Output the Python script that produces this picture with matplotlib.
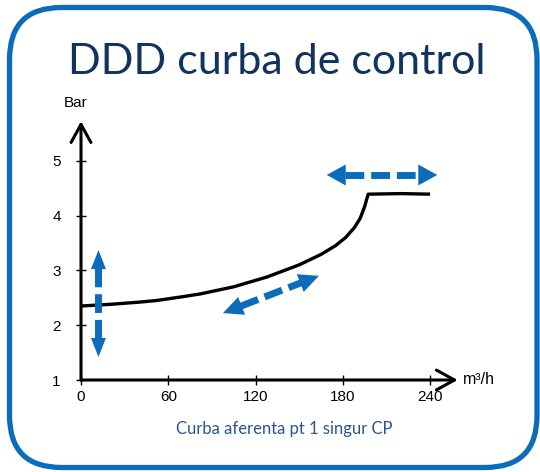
import numpy as np
import matplotlib
matplotlib.use("Agg")
import matplotlib.pyplot as plt
from matplotlib.patches import FancyBboxPatch, FancyArrowPatch

# ── Data ──────────────────────────────────────────────────────────────────────
flow = [0, 20, 40, 52, 70, 82, 105, 128, 150, 165, 175, 182, 188, 192, 195,
        196.5, 197.5, 220, 240]
pressure = [2.35, 2.38, 2.42, 2.45, 2.52, 2.57, 2.70, 2.88, 3.10, 3.29, 3.45,
            3.60, 3.78, 3.95, 4.16, 4.30, 4.39, 4.40, 4.39]
x_ticks = [0, 60, 120, 180, 240]
y_ticks = [1, 2, 3, 4, 5]

# double-headed dashed arrows (start, end) in data units
arrow_vert = [(12, 3.37), (12, 1.42)]
arrow_diag = [(97.6, 2.22), (163.6, 2.90)]
arrow_top = [(169, 4.74), (245, 4.74)]

BLUE = "#0a6cbb"
NAVY = "#12335e"

fig = plt.figure(figsize=(5.4, 4.72), dpi=100)
fig.patch.set_facecolor("white")

# ── Frame + texts on a pixel-space overlay ────────────────────────────────────
bg = fig.add_axes([0, 0, 1, 1])
bg.set_xlim(0, 540)
bg.set_ylim(472, 0)
bg.axis("off")
bg.add_patch(FancyBboxPatch((9.5, 7.5), 527.5, 460,
                            boxstyle="round,pad=0,rounding_size=52",
                            facecolor="none", edgecolor=BLUE, linewidth=3.8))
bg.text(277, 62, "DDD curba de control", ha="center", va="center",
        fontsize=31, color=NAVY, family="Lato")
bg.text(284, 429, "Curba aferenta pt 1 singur CP", ha="center", va="center",
        fontsize=12, color="#2b5590", family="Lato")

# ── Axes ──────────────────────────────────────────────────────────────────────
ax = fig.add_axes([81 / 540, 92 / 472, 381 / 540, 260.4 / 472])
ax.set_xlim(0, 262)
ax.set_ylim(1, 5.75)
for s in ax.spines.values():
    s.set_visible(False)
ax.patch.set_alpha(0)

ax.set_xticks(x_ticks)
ax.set_yticks(y_ticks)
ax.tick_params(axis="x", direction="inout", length=7, width=1,
               labelsize=11, pad=4)
ax.tick_params(axis="y", direction="inout", length=7, width=1,
               labelsize=11, pad=11)
ax.set_yticklabels([str(v) for v in y_ticks], family="Liberation Sans")
ax.set_xticklabels([str(v) for v in x_ticks], family="Liberation Sans")

# axis lines with open arrowheads
head = "->,head_length=1.0,head_width=0.55"
ax.annotate("", xy=(259, 1), xytext=(0, 1),
            arrowprops=dict(arrowstyle=head, lw=2.2, color="black",
                            shrinkA=0, shrinkB=0, mutation_scale=13),
            annotation_clip=False)
ax.annotate("", xy=(0, 5.72), xytext=(0, 1),
            arrowprops=dict(arrowstyle=head, lw=2.2, color="black",
                            shrinkA=0, shrinkB=0, mutation_scale=13),
            annotation_clip=False)
ax.text(-4, 6.05, "Bar", ha="center", va="center", fontsize=11,
        family="Liberation Sans")
ax.text(262.5, 1.0, "m³/h", ha="left", va="center", fontsize=11.5,
        family="Liberation Sans")

# control curve
ax.plot(flow, pressure, color="black", lw=2.4, solid_capstyle="butt",
        solid_joinstyle="round", clip_on=False)


def dashed_double_arrow(p0, p1, head_len=19, head_w=14, lw=5):
    """Dashed shaft with a filled head on both ends (head sizes in pixels)."""
    a = ax.transData.transform(p0)
    b = ax.transData.transform(p1)
    d = (b - a) / np.linalg.norm(b - a)
    inv = ax.transData.inverted()
    a_base = inv.transform(a + d * (head_len - 1))
    b_base = inv.transform(b - d * (head_len - 1))
    ax.plot([a_base[0], b_base[0]], [a_base[1], b_base[1]], color=BLUE,
            lw=lw, dashes=(2.7, 1.0), solid_capstyle="butt",
            dash_capstyle="butt", clip_on=False)
    style = f"-|>,head_length={head_len * 0.72},head_width={head_w * 0.36}"
    for tip, base in ((p0, a_base), (p1, b_base)):
        ax.add_patch(FancyArrowPatch(base, tip, arrowstyle=style,
                                     mutation_scale=1, color=BLUE, lw=0,
                                     shrinkA=0, shrinkB=0, clip_on=False))


dashed_double_arrow(*arrow_vert, head_len=19, head_w=15)
dashed_double_arrow(*arrow_diag, head_len=20, head_w=19)
dashed_double_arrow(*arrow_top, head_len=19, head_w=21)

fig.savefig("out.png", dpi=100, facecolor="white")
